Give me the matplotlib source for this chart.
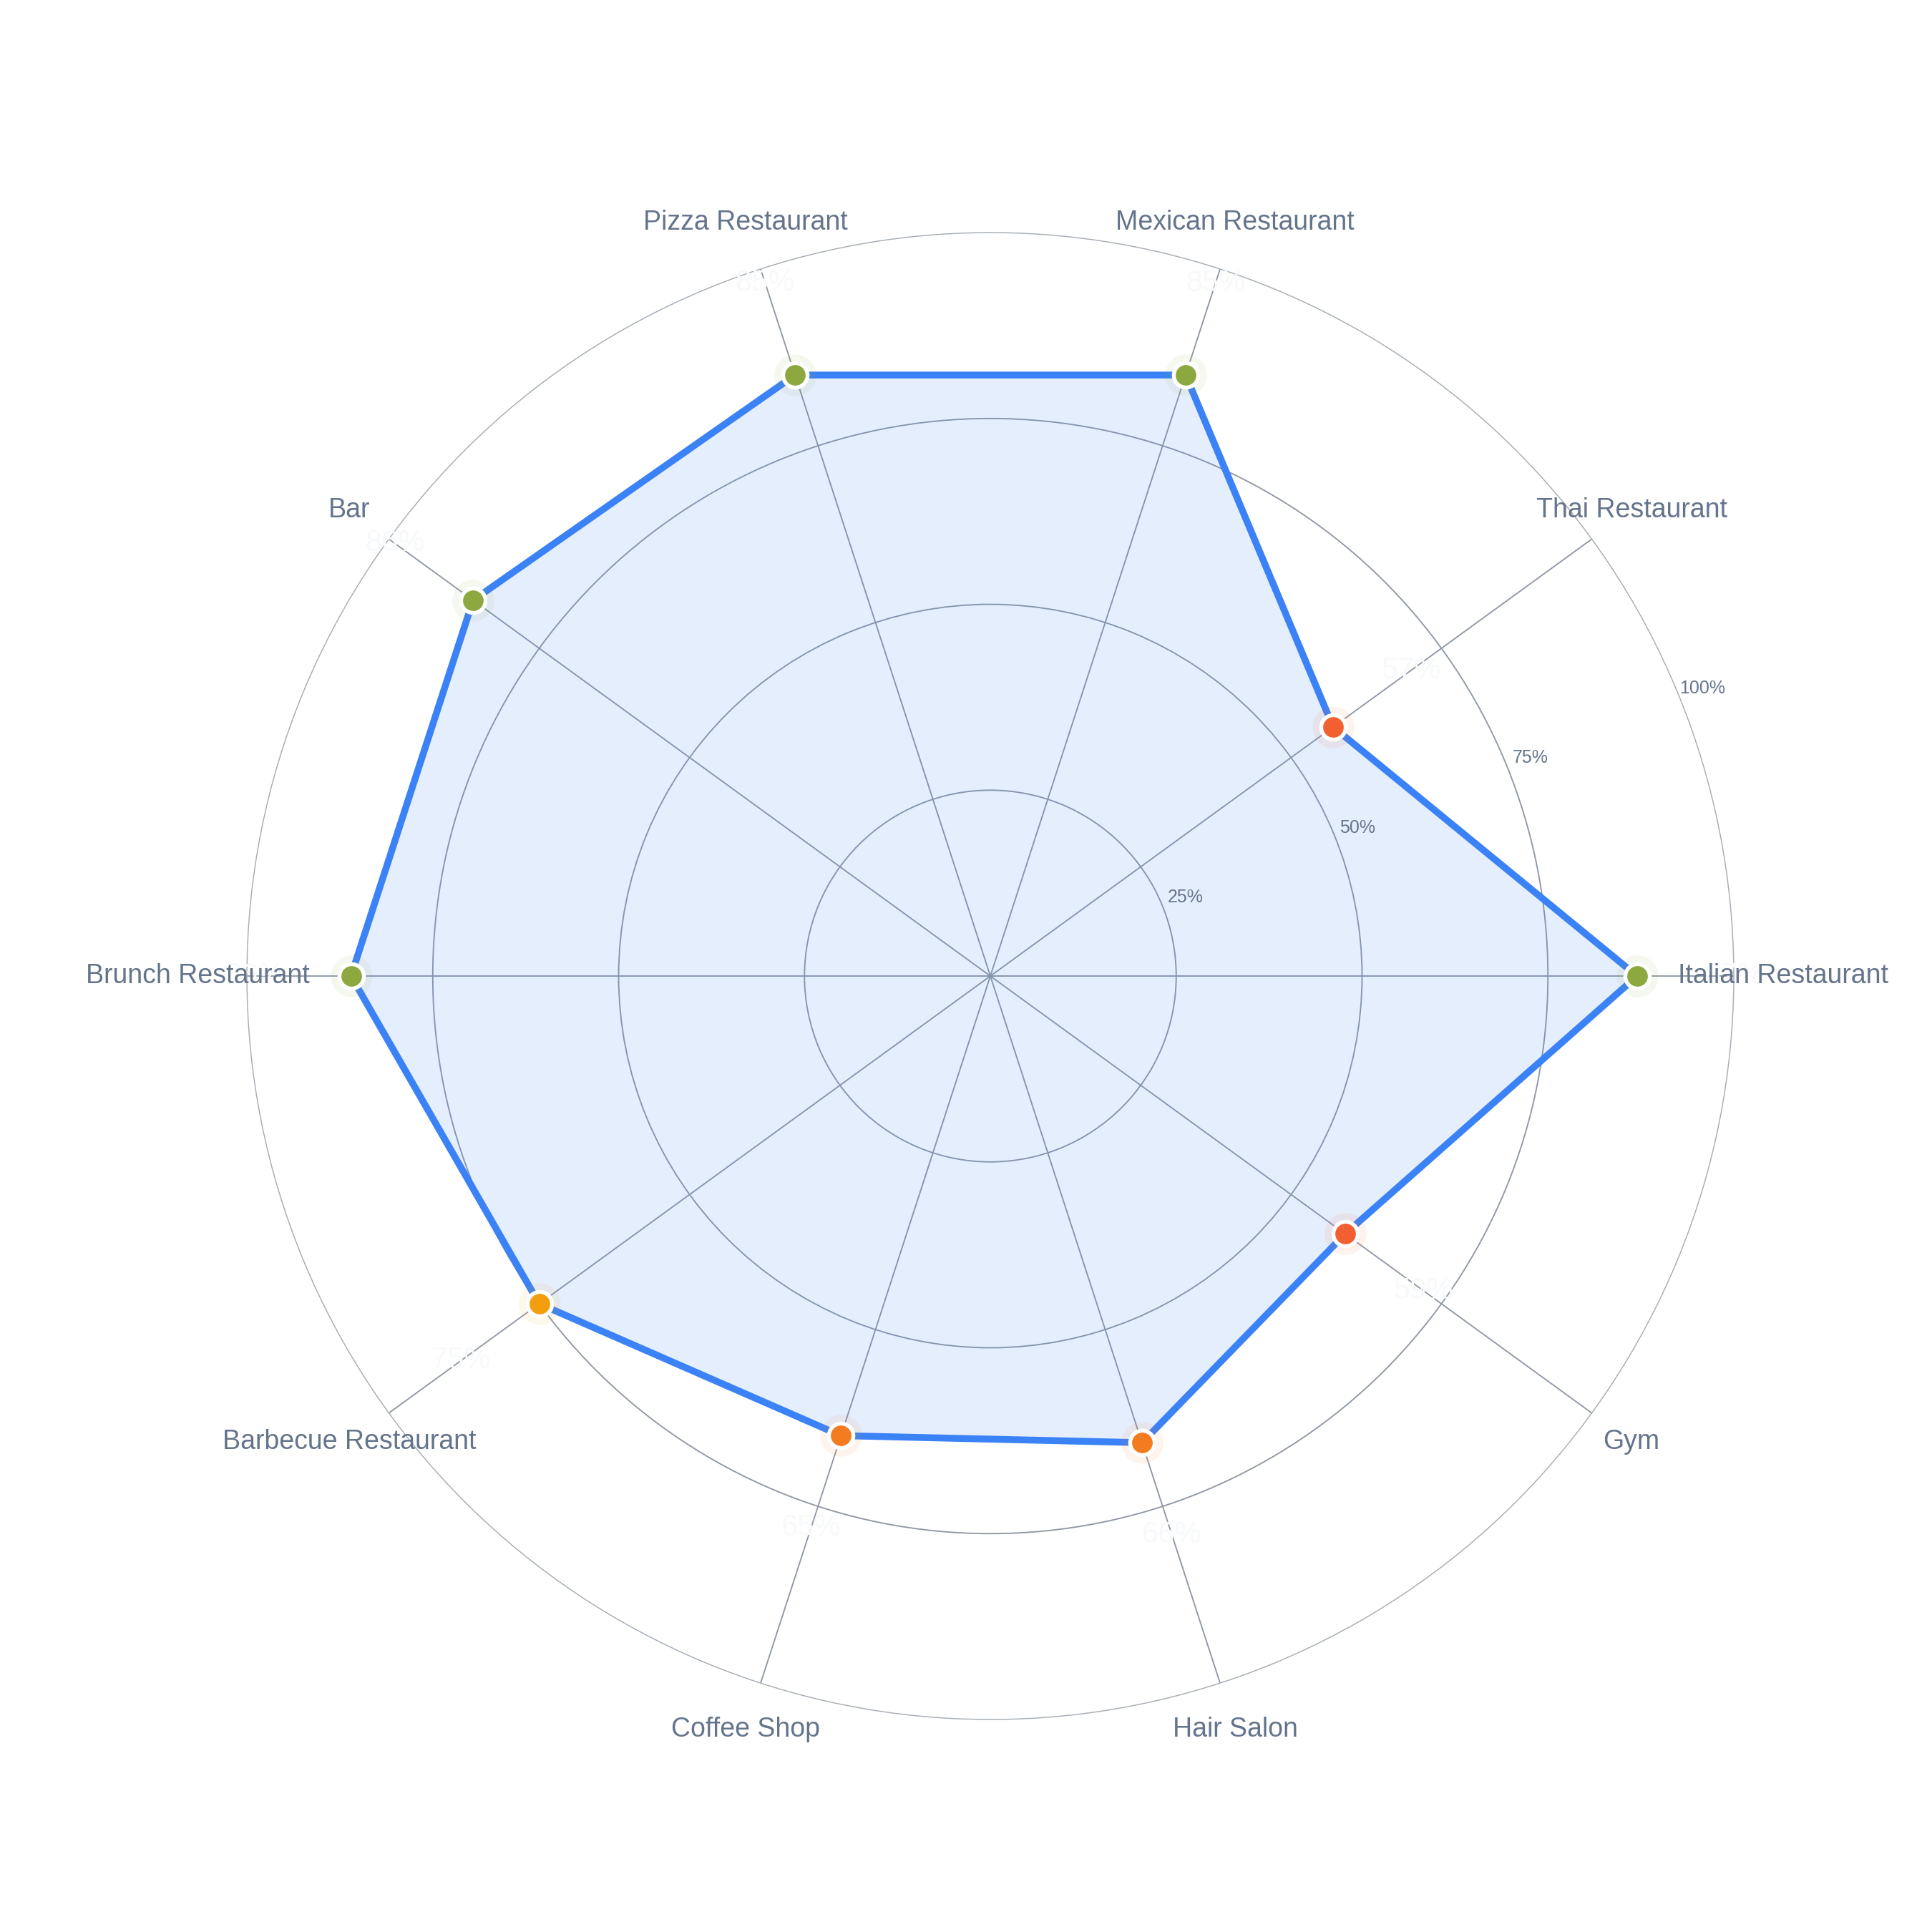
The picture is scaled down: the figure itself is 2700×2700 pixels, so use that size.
import numpy as np
import matplotlib
matplotlib.use("Agg")
import matplotlib.pyplot as plt

plt.rcParams['font.family'] = ['Liberation Sans', 'DejaVu Sans']

categories = ["Italian Restaurant", "Thai Restaurant", "Mexican Restaurant", "Pizza Restaurant",
              "Bar", "Brunch Restaurant", "Barbecue Restaurant", "Coffee Shop", "Hair Salon", "Gym"]
values = [87, 57, 85, 85, 86, 86, 75, 65, 66, 59]
radial_ticks = [25, 50, 75, 100]
radial_tick_labels = ["25%", "50%", "75%", "100%"]


def marker_color(v):
    if v >= 80:
        return "#8CA83F"
    if v >= 70:
        return "#F29E0F"
    if v >= 60:
        return "#F37C21"
    return "#F25F30"


n = len(categories)
angles = np.arange(n) * 2 * np.pi / n

fig = plt.figure(figsize=(9, 9), dpi=300)
fig.patch.set_facecolor("white")
ax = fig.add_axes([0.1278, 0.11, 0.7696, 0.7696], projection="polar")
ax.set_facecolor("white")
ax.set_ylim(0, 100)

# grid
ax.set_yticks(radial_ticks[:-1])
ax.set_yticklabels([])
ax.set_xticks(angles)
ax.set_xticklabels([])
ax.tick_params(length=0)
ax.grid(True, color="#8f98a4", linewidth=0.45)
ax.spines["polar"].set_color("#a6adb6")
ax.spines["polar"].set_linewidth(0.35)

# data polygon
a_closed = np.concatenate([angles, angles[:1]])
v_closed = np.concatenate([values, values[:1]])
ax.fill(a_closed, v_closed, color="#3B82F6", alpha=0.13, zorder=2, linewidth=0)
ax.plot(a_closed, v_closed, color="#3B82F6", linewidth=2.3, zorder=3, solid_joinstyle="miter")

# markers with halo
colors = [marker_color(v) for v in values]
for a, v, c in zip(angles, values, colors):
    ax.plot(a, v, marker="o", markersize=14, color=c, alpha=0.08, markeredgewidth=0,
            zorder=4, linestyle="none")
    ax.plot(a, v, marker="o", markersize=8.2, markerfacecolor=c, markeredgecolor="white",
            markeredgewidth=1.3, zorder=5, linestyle="none")

# value labels (faint)
for a, v in zip(angles, values):
    ax.text(a, v + 13, f"{v}%", ha="center", va="center", fontsize=10,
            color="#f7f9fb", zorder=6)

# category labels
for a, lab in zip(angles, categories):
    ax.text(a, 106.6, lab, ha="center", va="center", fontsize=9.0,
            color="#64748b", clip_on=False, zorder=7)

# radial tick labels
rad_angle = np.deg2rad(22)
for t, lab in zip(radial_ticks, radial_tick_labels):
    ax.text(rad_angle, t + 3.3, lab, ha="center", va="center", fontsize=6,
            color="#64748b", zorder=7)

fig.savefig("out.png", dpi=300, facecolor="white")
